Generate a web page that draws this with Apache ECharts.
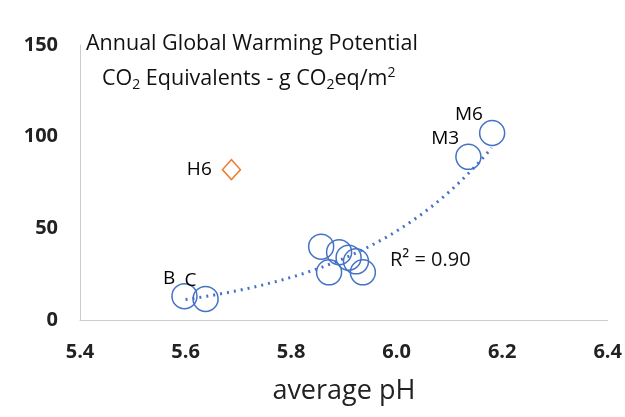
<!DOCTYPE html><html><head><meta charset="utf-8"><script src="https://cdn.jsdelivr.net/npm/echarts@6/dist/echarts.min.js"></script></head><body style="margin:0"><div id="c" style="width:625px;height:417px"></div><script>
const names=['B','C','','','','','','','M3','M6'];
const xs=[5.598,5.638,5.857,5.872,5.891,5.909,5.923,5.936,6.136,6.181];
const ys=[13,11.5,40,26,37,34,32,26,89,102];
const h6=[5.687,82];
const xTicks=[5.4,5.6,5.8,6.0,6.2,6.4];
let n=xs.length,sx=0,sy=0,sxx=0,sxy=0;
for(let i=0;i<n;i++){const l=Math.log(ys[i]);sx+=xs[i];sy+=l;sxx+=xs[i]*xs[i];sxy+=xs[i]*l;}
const b=(n*sxy-sx*sy)/(n*sxx-sx*sx),a=Math.exp((sy-b*sx)/n);
const trend=[];for(let x=5.6;x<=6.18;x+=0.01)trend.push([x,a*Math.exp(b*x)]);
const f="'Open Sans', sans-serif";
const c=echarts.init(document.getElementById('c'));
c.setOption({animation:false,
grid:{left:80,right:12,top:45,bottom:97},
xAxis:{type:'value',min:5.4,max:6.4,interval:0.2,name:'average pH',nameLocation:'middle',nameGap:58,
nameTextStyle:{fontSize:27,color:'#222',fontFamily:f},
axisLine:{show:true,lineStyle:{color:'#ccc'}},axisTick:{show:false},splitLine:{show:false},
axisLabel:{fontSize:20,fontWeight:'bold',color:'#222',fontFamily:f,margin:22,formatter:v=>v.toFixed(1)}},
yAxis:{type:'value',min:0,max:150,interval:50,axisLine:{show:true,lineStyle:{color:'#ccc'}},axisTick:{show:false},splitLine:{show:false},
axisLabel:{fontSize:20,fontWeight:'bold',color:'#222',fontFamily:f,margin:22}},
series:[
{type:'line',data:trend,showSymbol:false,lineStyle:{color:'#4472C4',width:3,type:[2,5]},z:1},
{type:'scatter',data:xs.map((x,i)=>({value:[x,ys[i]],name:names[i]})),symbol:'circle',symbolSize:25,
itemStyle:{color:'rgba(255,255,255,0)',borderColor:'#4472C4',borderWidth:1.5,opacity:1},
label:{show:true,formatter:p=>p.name,position:'left',distance:0,fontSize:19,color:'#000',fontFamily:f,offset:[4,-18]}},
{type:'scatter',data:[h6],symbol:'diamond',symbolSize:[18,20],itemStyle:{color:'#fff',borderColor:'#ED7D31',borderWidth:1.5,opacity:1},
label:{show:true,formatter:'H6',position:'left',distance:10,fontSize:19,color:'#000',fontFamily:f}}
],
graphic:[
{type:'text',left:86,top:33,style:{text:'Annual Global Warming Potential',fontSize:21.5,fill:'#111',fontFamily:f}},
{type:'text',left:102,top:66,style:{text:'{a|CO}{s|2}{a| Equivalents - g CO}{s|2}{a|eq/m}{p|2}',rich:{a:{fontSize:21.5,fill:'#111',fontFamily:f},s:{fontSize:14,fill:'#111',fontFamily:f,padding:[12,0,0,0]},p:{fontSize:14,fill:'#111',fontFamily:f,padding:[0,0,12,0]}}}},
{type:'text',left:390,top:250,style:{text:'R² = 0.90',fontSize:20,fill:'#111',fontFamily:f}}
]});
</script></body></html>
